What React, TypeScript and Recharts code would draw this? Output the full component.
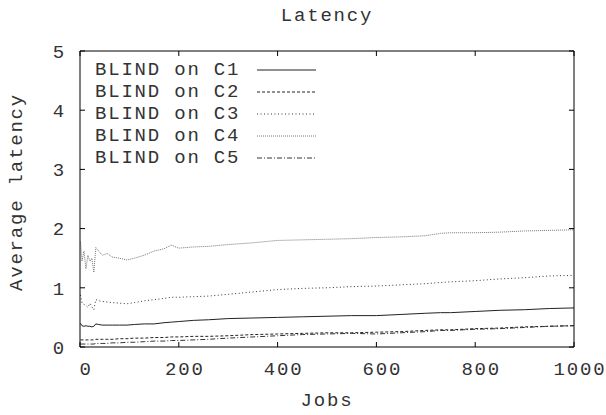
import React from "react";
import { LineChart, Line, XAxis, YAxis, Legend } from "recharts";

const jobs = [1, 4, 8, 12, 16, 20, 24, 28, 32, 38, 45, 55, 65, 80, 95, 110, 130, 150, 170, 185, 200, 230, 260, 300, 350, 400, 450, 500, 550, 600, 650, 700, 730, 750, 800, 850, 900, 950, 1000];

const c1 = [0.40, 0.36, 0.35, 0.36, 0.35, 0.35, 0.34, 0.35, 0.39, 0.38, 0.37, 0.37, 0.37, 0.37, 0.37, 0.38, 0.39, 0.39, 0.41, 0.42, 0.43, 0.45, 0.46, 0.48, 0.49, 0.50, 0.51, 0.52, 0.53, 0.53, 0.55, 0.57, 0.58, 0.58, 0.60, 0.62, 0.63, 0.65, 0.66];
const c2 = [0.12, 0.12, 0.12, 0.12, 0.12, 0.12, 0.12, 0.12, 0.13, 0.13, 0.13, 0.13, 0.13, 0.14, 0.14, 0.15, 0.15, 0.16, 0.16, 0.17, 0.17, 0.18, 0.18, 0.19, 0.21, 0.22, 0.23, 0.24, 0.24, 0.25, 0.26, 0.28, 0.29, 0.29, 0.31, 0.32, 0.34, 0.35, 0.36];
const c3 = [0.88, 0.74, 0.72, 0.70, 0.67, 0.74, 0.68, 0.63, 0.80, 0.78, 0.77, 0.76, 0.75, 0.74, 0.73, 0.75, 0.78, 0.80, 0.82, 0.84, 0.84, 0.85, 0.86, 0.89, 0.93, 0.97, 0.99, 1.00, 1.02, 1.03, 1.05, 1.07, 1.09, 1.10, 1.12, 1.15, 1.17, 1.20, 1.21];
const c4 = [1.78, 1.45, 1.62, 1.32, 1.55, 1.45, 1.50, 1.26, 1.68, 1.62, 1.55, 1.58, 1.52, 1.50, 1.47, 1.50, 1.55, 1.62, 1.66, 1.72, 1.67, 1.69, 1.70, 1.73, 1.76, 1.80, 1.81, 1.82, 1.83, 1.85, 1.86, 1.88, 1.92, 1.93, 1.93, 1.94, 1.96, 1.97, 1.98];
const c5 = [0.05, 0.05, 0.05, 0.05, 0.05, 0.05, 0.05, 0.05, 0.06, 0.06, 0.06, 0.06, 0.07, 0.07, 0.08, 0.08, 0.09, 0.10, 0.10, 0.11, 0.11, 0.12, 0.13, 0.15, 0.17, 0.19, 0.21, 0.22, 0.23, 0.22, 0.24, 0.26, 0.28, 0.28, 0.30, 0.31, 0.33, 0.35, 0.36];

const seriesKeys = ["c1", "c2", "c3", "c4", "c5"];
const seriesNames = ["BLIND on C1", "BLIND on C2", "BLIND on C3", "BLIND on C4", "BLIND on C5"];
const xTicks = [0, 200, 400, 600, 800, 1000];
const yTicks = [0, 1, 2, 3, 4, 5];

const dashes = ["", "3 2", "1 2.5", "1 1", "5 2 1 2"];
const strokes = ["#222", "#222", "#333", "#777", "#333"];

const data = jobs.map((x, i) => ({ x, c1: c1[i], c2: c2[i], c3: c3[i], c4: c4[i], c5: c5[i] }));

const font = "'Liberation Mono', monospace";
const textColor = "#333";
const fontSize = 19;
const spacing = 1.8;

function renderLegend() {
  return (
    <div style={{ fontFamily: font, fontSize, color: textColor, letterSpacing: spacing }}>
      {seriesNames.map((name, i) => (
        <div key={name} style={{ display: "flex", alignItems: "center", height: 22 }}>
          <span style={{ whiteSpace: "pre", lineHeight: "22px" }}>{name}</span>
          <svg width={59} height={10} style={{ marginLeft: 17 }}>
            <line x1={0} x2={59} y1={5} y2={5} stroke={strokes[i]} strokeDasharray={dashes[i]} />
          </svg>
        </div>
      ))}
    </div>
  );
}

const noLabel = () => "";

// mirrored axes that only draw the frame and the inward ticks
const frameX = { type: "number" as const, domain: [0, 1000], ticks: xTicks, allowDataOverflow: true, mirror: true, height: 30, tickFormatter: noLabel, tickSize: 5, tickLine: { stroke: "#000" } };
const frameY = { type: "number" as const, domain: [0, 5], ticks: yTicks, allowDataOverflow: true, mirror: true, width: 30, tickFormatter: noLabel, tickSize: 5, tickLine: { stroke: "#000" } };

export default function App() {
  const tickStyle = { fontFamily: font, fontSize, fill: textColor, letterSpacing: spacing };
  return (
    <div style={{ position: "absolute", left: 0, top: 0, width: 606, height: 415, background: "#fff" }}>
      <div
        style={{
          position: "absolute",
          top: 5,
          left: 80,
          width: 494,
          textAlign: "center",
          fontFamily: font,
          fontSize,
          color: textColor,
          letterSpacing: spacing,
        }}
      >
        Latency
      </div>
      <LineChart width={606} height={415} data={data} margin={{ top: 51, right: 32, bottom: 28, left: 0 }}>
        <XAxis
          xAxisId="x"
          dataKey="x"
          type="number"
          domain={[0, 1000]}
          ticks={xTicks}
          allowDataOverflow
          height={40}
          tickLine={false}
          tickSize={0}
          tickMargin={15}
          axisLine={{ stroke: "#000" }}
          tick={{ ...tickStyle, dx: 6 }}
          label={{ value: "Jobs", position: "bottom", offset: 6, style: tickStyle }}
        />
        <XAxis xAxisId="xb" dataKey="x" {...frameX} axisLine={false} />
        <XAxis xAxisId="xt" dataKey="x" orientation="top" {...frameX} axisLine={{ stroke: "#000" }} />
        <YAxis
          yAxisId="l"
          type="number"
          domain={[0, 5]}
          ticks={yTicks}
          allowDataOverflow
          width={80}
          tickLine={false}
          tickSize={0}
          tickMargin={14}
          axisLine={{ stroke: "#000" }}
          tick={tickStyle}
          label={{
            value: "Average latency",
            content: ({ viewBox }: any) => {
              const cy = viewBox.y + viewBox.height / 2 - 7;
              return (
                <text
                  x={17}
                  y={cy}
                  transform={`rotate(-90, 17, ${cy})`}
                  textAnchor="middle"
                  dominantBaseline="central"
                  style={tickStyle}
                >
                  Average latency
                </text>
              );
            },
          }}
        />
        <YAxis yAxisId="lm" {...frameY} axisLine={false} />
        <YAxis yAxisId="r" orientation="right" {...frameY} axisLine={{ stroke: "#000" }} />
        <Legend
          layout="horizontal"
          align="center"
          verticalAlign="middle"
          content={renderLegend}
          wrapperStyle={{ top: 59, left: 95, width: "auto" }}
        />
        {seriesKeys.map((k, i) => (
          <Line
            key={k}
            xAxisId="x"
            yAxisId="l"
            dataKey={k}
            type="linear"
            stroke={strokes[i]}
            strokeWidth={1}
            strokeDasharray={dashes[i]}
            dot={false}
            activeDot={false}
            isAnimationActive={false}
          />
        ))}
        {/* invisible copies so the frame axes get a domain */}
        <Line xAxisId="xb" yAxisId="lm" dataKey="c1" stroke="none" dot={false} activeDot={false} legendType="none" isAnimationActive={false} />
        <Line xAxisId="xt" yAxisId="r" dataKey="c1" stroke="none" dot={false} activeDot={false} legendType="none" isAnimationActive={false} />
      </LineChart>
    </div>
  );
}
